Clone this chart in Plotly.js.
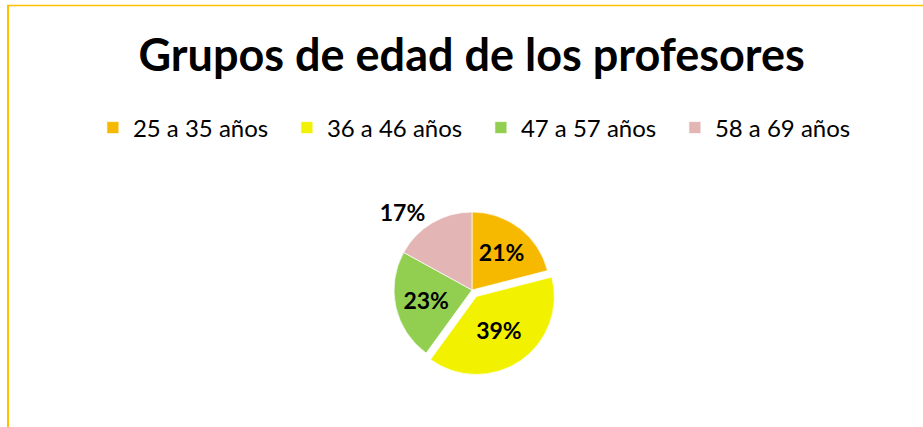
<!DOCTYPE html>
<html>
<head>
<meta charset="utf-8">
<script src="https://cdn.plot.ly/plotly-3.0.1.min.js"></script>
<style>html,body{margin:0;padding:0;background:#fff;} #chart{width:923px;height:427px;}</style>
</head>
<body>
<div id="chart"></div>
<script>
const categories = ['25 a 35 años', '36 a 46 años', '47 a 57 años', '58 a 69 años'];
const values = [21, 39, 23, 17];
const sliceColors = ['#F6B900', '#F2F200', '#92CF50', '#E3B6B5'];
const pulls = [0, 0.1, 0, 0];
const textPositions = ['inside', 'inside', 'inside', 'outside'];

const W = 923, H = 427;
const FONT = 'Lato, "Open Sans", sans-serif';

const trace = {
  type: 'pie',
  labels: categories,
  values: values,
  sort: false,
  direction: 'clockwise',
  rotation: 0,
  pull: pulls,
  marker: {colors: sliceColors, line: {color: 'rgba(255,255,255,0.7)', width: 1}},
  textinfo: 'percent',
  texttemplate: '%{percent:.0%}',
  textposition: textPositions,
  insidetextorientation: 'horizontal',
  textfont: {family: FONT, size: 23, color: '#000', weight: 'bold'},
  hoverinfo: 'label+percent',
  domain: {x: [0.4184, 0.6043], y: [0.1199, 0.5218]}
};

const layout = {
  width: W, height: H,
  margin: {l: 0, r: 0, t: 0, b: 0},
  paper_bgcolor: '#fff',
  font: {family: FONT, color: '#000'},
  title: {
    text: '<b>Grupos de edad de los profesores</b>',
    font: {family: FONT, size: 45, color: '#000'},
    x: 0.511, xanchor: 'center', xref: 'paper',
    y: 1 - 55 / H, yanchor: 'middle', yref: 'container'
  },
  showlegend: true,
  legend: {
    orientation: 'h',
    x: 0.521, xanchor: 'center',
    y: 1 - 128 / H, yanchor: 'middle',
    font: {family: FONT, size: 24, color: '#000'},
    entrywidth: 149,
    itemclick: false
  },
  shapes: [
    {type: 'line', xref: 'paper', yref: 'paper', x0: 8 / W, x1: 8 / W, y0: 0, y1: 1 - 5.5 / H,
     line: {color: '#FFC000', width: 2}},
    {type: 'line', xref: 'paper', yref: 'paper', x0: 7 / W, x1: 1, y0: 1 - 5.5 / H, y1: 1 - 5.5 / H,
     line: {color: '#FFC000', width: 1.5}}
  ]
};

Plotly.newPlot('chart', [trace], layout, {displayModeBar: false, staticPlot: true});
</script>
</body>
</html>
